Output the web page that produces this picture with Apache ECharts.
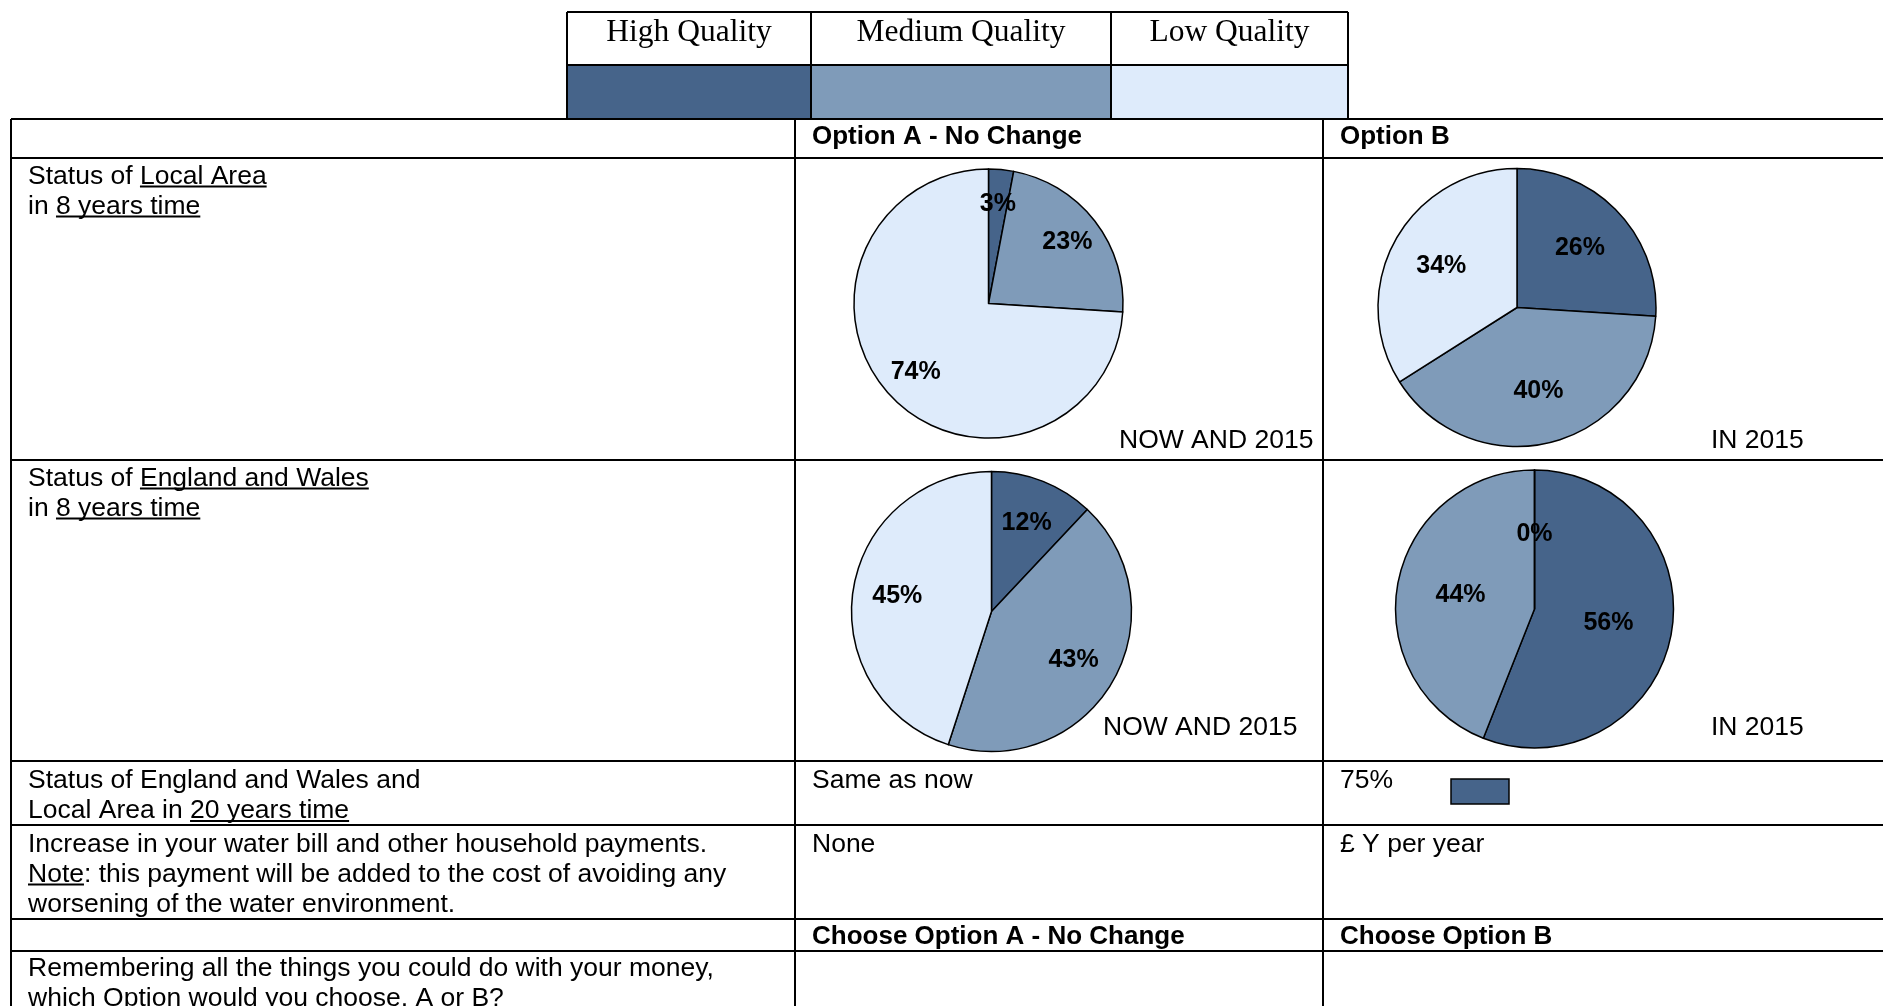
<!DOCTYPE html>
<html>
<head>
<meta charset="utf-8">
<script src="https://cdn.jsdelivr.net/npm/echarts@6/dist/echarts.min.js"></script>
<style>
html, body { margin: 0; padding: 0; background: #fff; }
#box { width: 1883px; height: 1006px; }
</style>
</head>
<body>
<div id="box"></div>
<script>
// quality classes, dark to light
const qualityLevels = ['High Quality', 'Medium Quality', 'Low Quality']
const qualityColors = ['#46648a', '#7f9bb9', '#deebfb']

// shares in % (same order as qualityLevels)
const localOptionA = [3, 23, 74]
const localOptionB = [26, 40, 34]
const nationalOptionA = [12, 43, 45]
const nationalOptionB = [56, 44, 0]

const SANS = '"Liberation Sans", Arial, sans-serif'
const SERIF = '"Liberation Serif", "Times New Roman", serif'
const REG = '26.5px ' + SANS
const BOLD = 'bold 26px ' + SANS

const ctx = document.createElement('canvas').getContext('2d')
function textWidth (str, font) {
  ctx.font = font
  return ctx.measureText(str).width
}
// distance from the middle line down to the alphabetic baseline
function midOffset (font) {
  ctx.font = font
  ctx.textBaseline = 'middle'
  return ctx.measureText('H').actualBoundingBoxDescent
}

const graphic = []

function line (x1, y1, x2, y2, w) {
  graphic.push({
    type: 'line',
    silent: true,
    shape: { x1: x1, y1: y1, x2: x2, y2: y2 },
    style: { stroke: '#000', lineWidth: w || 2 }
  })
}

// one line of text; segs = [[text, underlined], ...]
function textLine (x, baseline, segs, font) {
  font = font || REG
  const y = baseline - midOffset(font)
  segs.forEach(function (s) {
    const w = textWidth(s[0], font)
    graphic.push({
      type: 'text',
      silent: true,
      style: { text: s[0], x: x, y: y, font: font, fill: '#000', textVerticalAlign: 'middle' }
    })
    if (s[1]) {
      line(x, baseline + 3, x + w, baseline + 3, 2)
    }
    x += w
  })
}

// legend box
const legendX = [567, 811, 1111, 1348]
qualityLevels.forEach(function (q, i) {
  graphic.push({
    type: 'rect',
    silent: true,
    shape: { x: legendX[i], y: 65, width: legendX[i + 1] - legendX[i], height: 54 },
    style: { fill: qualityColors[i] }
  })
  const font = '31.5px ' + SERIF
  graphic.push({
    type: 'text',
    silent: true,
    style: {
      text: q,
      x: (legendX[i] + legendX[i + 1]) / 2,
      y: 41 - midOffset(font),
      font: font,
      fill: '#000',
      textAlign: 'center',
      textVerticalAlign: 'middle'
    }
  })
})
line(567, 12, 1348, 12)
line(567, 65, 1348, 65)
legendX.forEach(function (x) { line(x, 12, x, 119) })

// table grid
const colX = [11, 795, 1323]
const rowY = [119, 158, 460, 761, 825, 919, 951]
rowY.forEach(function (y) { line(11, y, 1883, y) })
colX.forEach(function (x) { line(x, 119, x, 1006) })

const cL = 28
const cA = 812
const cB = 1340

textLine(cA, 144, [['Option A - No Change']], BOLD)
textLine(cB, 144, [['Option B']], BOLD)

textLine(cL, 183.5, [['Status of '], ['Local Area', 1]])
textLine(cL, 213.5, [['in '], ['8 years time', 1]])

textLine(cL, 485.5, [['Status of '], ['England and Wales', 1]])
textLine(cL, 515.5, [['in '], ['8 years time', 1]])

textLine(cL, 788, [['Status of England and Wales and']])
textLine(cL, 818, [['Local Area in '], ['20 years time', 1]])
textLine(cA, 788, [['Same as now']])
textLine(cB, 788, [['75%']])
graphic.push({
  type: 'rect',
  silent: true,
  shape: { x: 1451, y: 779, width: 58, height: 25 },
  style: { fill: qualityColors[0], stroke: '#000', lineWidth: 1.5 }
})

textLine(cL, 851.5, [['Increase in your water bill and other household payments.']])
textLine(cL, 881.5, [['Note', 1], [': this payment will be added to the cost of avoiding any']])
textLine(cL, 911.5, [['worsening of the water environment.']])
textLine(cA, 851.5, [['None']])
textLine(cB, 851.5, [['£ Y per year']])

textLine(cA, 944, [['Choose Option A - No Change']], BOLD)
textLine(cB, 944, [['Choose Option B']], BOLD)

textLine(cL, 976, [['Remembering all the things you could do with your money,']])
textLine(cL, 1006, [['which Option would you choose, A or B?']])

// captions under the pies
textLine(1119, 447.5, [['NOW AND 2015']])
textLine(1711, 447.5, [['IN 2015']])
textLine(1103, 735, [['NOW AND 2015']])
textLine(1711, 735, [['IN 2015']])

// a filled pie plus a transparent ring that carries the labels;
// labelAt = where the label sits, as a share of the radius
function pie (values, center, r, labelAt) {
  return [{
    type: 'pie',
    center: center,
    radius: r,
    startAngle: 90,
    clockwise: true,
    silent: true,
    avoidLabelOverlap: false,
    label: { show: false },
    labelLine: { show: false },
    itemStyle: { borderColor: '#000', borderWidth: 1.5 },
    data: values.map(function (v, i) {
      return { name: qualityLevels[i], value: v, itemStyle: { color: qualityColors[i] } }
    })
  }, {
    type: 'pie',
    center: center,
    radius: [r * (2 * labelAt - 1), r],
    startAngle: 90,
    clockwise: true,
    silent: true,
    z: 3,
    avoidLabelOverlap: false,
    itemStyle: { color: 'rgba(0,0,0,0)', borderWidth: 0 },
    label: {
      show: true,
      position: 'inside',
      formatter: '{c}%',
      fontFamily: SANS,
      fontWeight: 'bold',
      fontSize: 25,
      color: '#000',
      textBorderWidth: 0
    },
    labelLine: { show: false },
    data: values.map(function (v, i) {
      return { name: qualityLevels[i], value: v }
    })
  }]
}

const chart = echarts.init(document.getElementById('box'))
chart.setOption({
  backgroundColor: '#fff',
  animation: false,
  graphic: { elements: graphic },
  series: [].concat(
    pie(localOptionA, [988.5, 303.5], 134.5, 0.72),
    pie(localOptionB, [1517, 307.5], 139, 0.6),
    pie(nationalOptionA, [991.5, 611.5], 140, 0.66),
    pie(nationalOptionB, [1534.5, 609], 139, 0.52)
  )
})
</script>
</body>
</html>
